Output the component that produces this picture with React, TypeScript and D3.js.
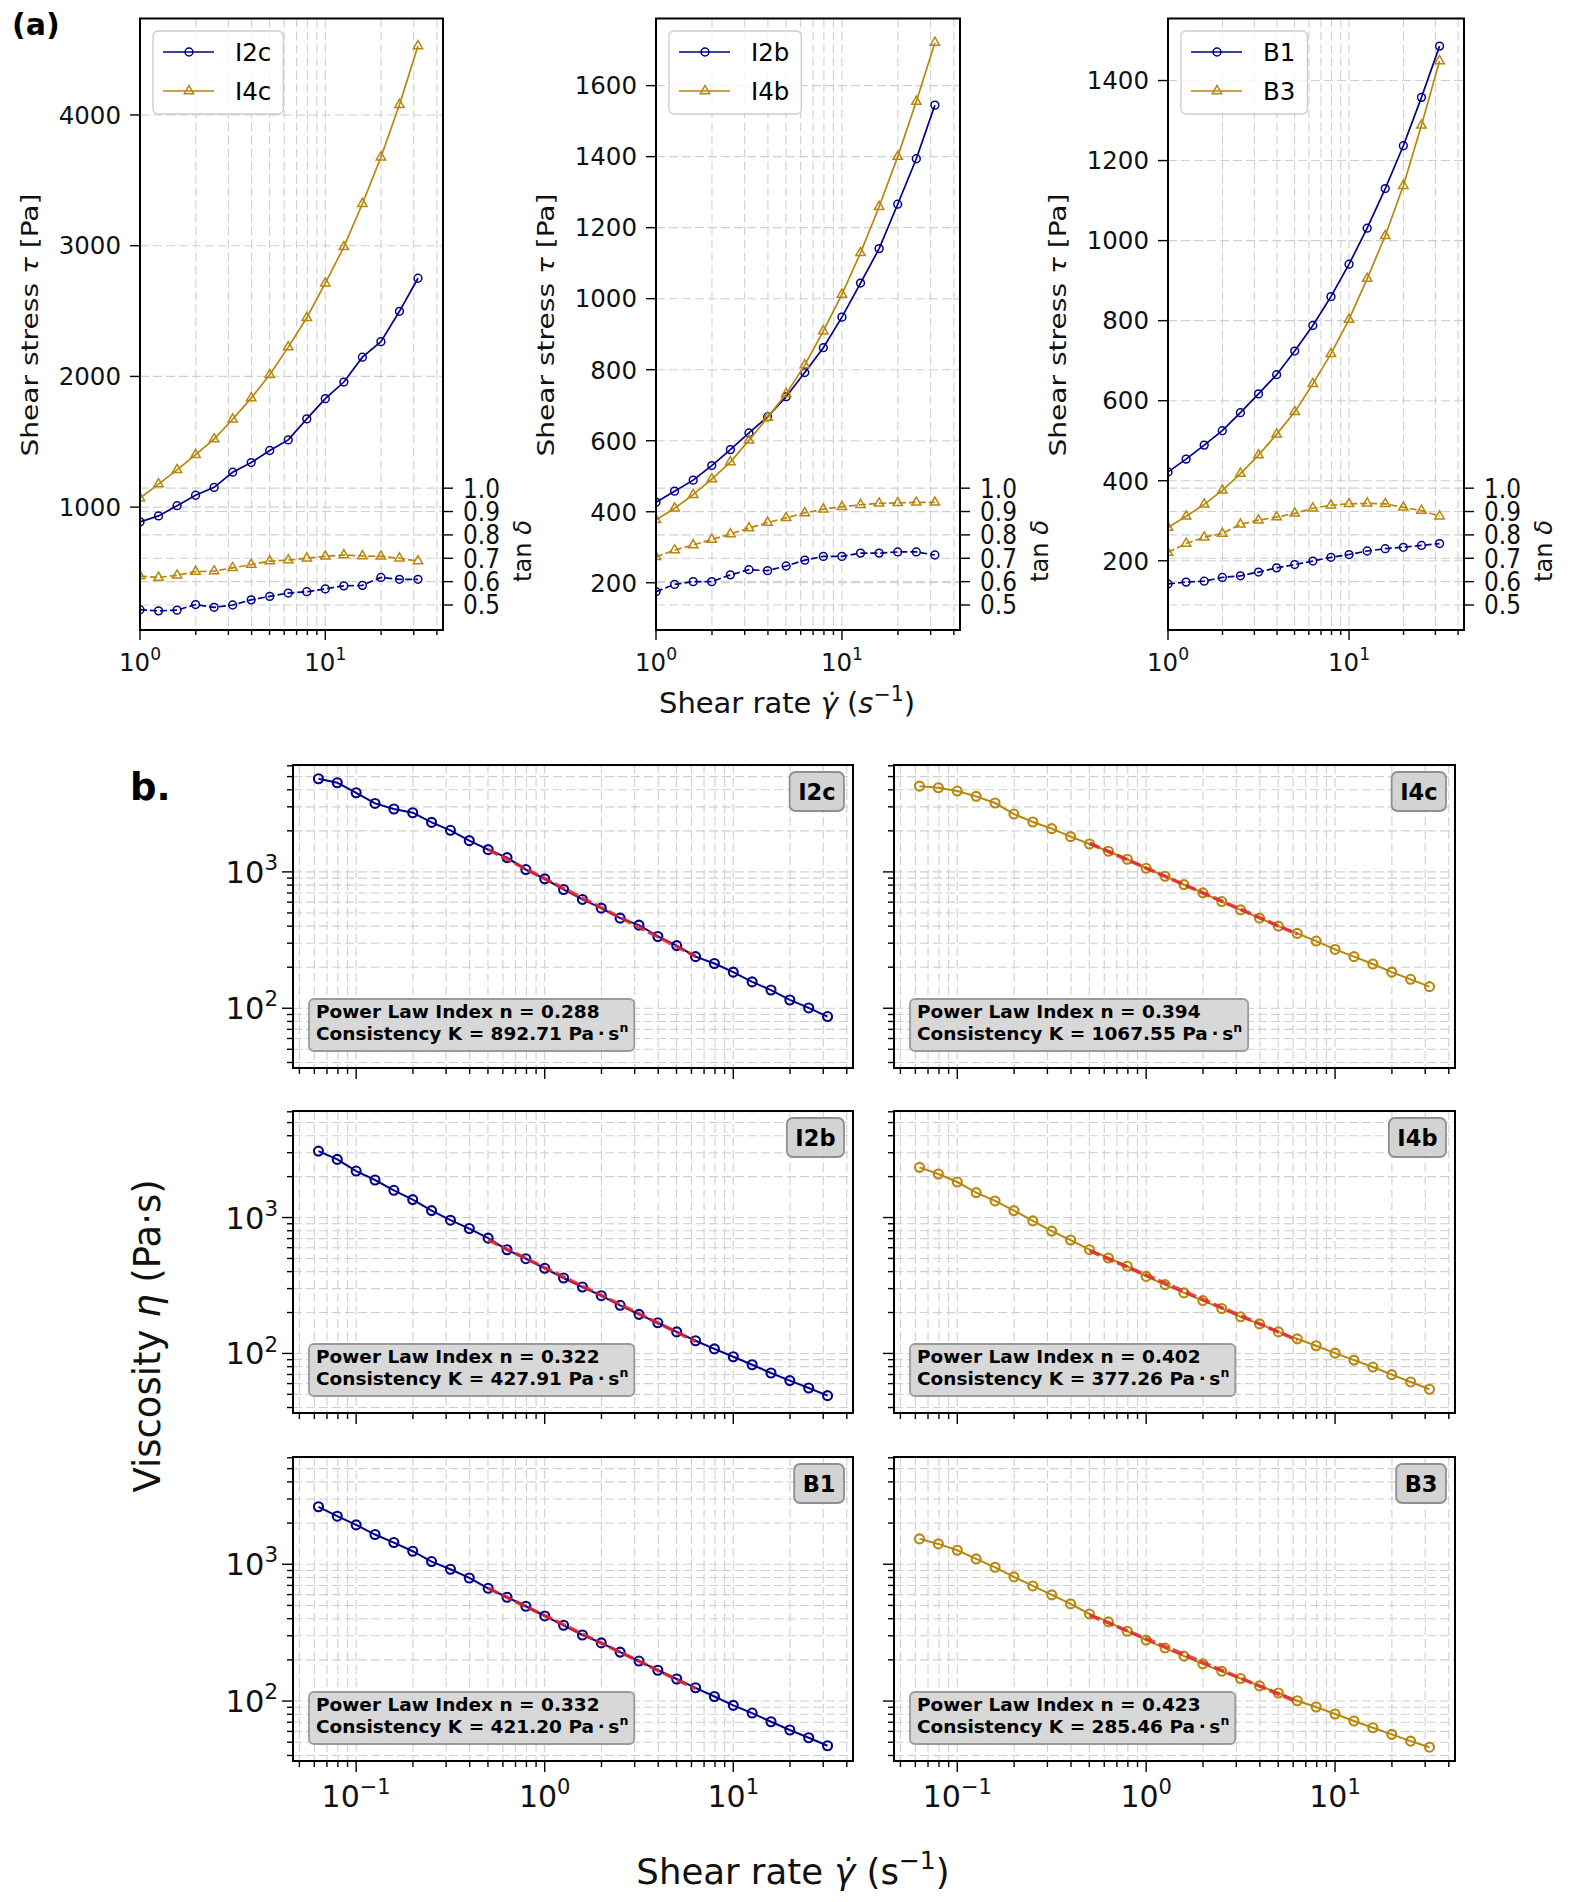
import React, { useEffect, useRef } from 'react';
import * as d3 from 'd3';

const W = 1576;
const H = 1902;
const FONT = "'DejaVu Sans', 'Liberation Sans', sans-serif";
const NAVY = '#00008b';
const GOLD = '#b8860b';
const FIT_RED = '#e3262a';
const GRID = '#d0d0d0';

// ---- part (a): shear stress and tan delta vs shear rate ----
const rateA = [1, 1.259, 1.585, 1.995, 2.512, 3.162, 3.981, 5.012, 6.31, 7.943, 10, 12.59, 15.85, 19.95, 25.12, 31.62];

const stressI2c = [887, 933, 1011, 1091, 1151, 1267, 1341, 1433, 1514, 1675, 1830, 1957, 2147, 2266, 2498, 2751];
const stressI4c = [1070, 1176, 1285, 1401, 1520, 1672, 1834, 2013, 2224, 2449, 2713, 2991, 3321, 3677, 4078, 4528];
const tanI2c = [0.48, 0.475, 0.478, 0.502, 0.49, 0.5, 0.522, 0.537, 0.551, 0.557, 0.569, 0.582, 0.584, 0.618, 0.61, 0.61];
const tanI4c = [0.624, 0.618, 0.627, 0.643, 0.645, 0.659, 0.673, 0.688, 0.692, 0.7, 0.708, 0.714, 0.71, 0.708, 0.7, 0.688];

const stressI2b = [427, 458, 489, 530, 575, 622, 667, 724, 792, 862, 948, 1044, 1141, 1266, 1394, 1545];
const stressI4b = [377, 410, 448, 492, 540, 601, 665, 732, 813, 909, 1012, 1129, 1259, 1400, 1555, 1721];
const tanI2b = [0.557, 0.588, 0.6, 0.6, 0.629, 0.651, 0.647, 0.667, 0.692, 0.708, 0.708, 0.722, 0.722, 0.727, 0.727, 0.714];
const tanI4b = [0.706, 0.735, 0.757, 0.78, 0.804, 0.829, 0.853, 0.873, 0.894, 0.91, 0.92, 0.929, 0.935, 0.937, 0.939, 0.939];

const stressB1 = [422, 454, 489, 525, 570, 617, 665, 724, 788, 860, 941, 1031, 1130, 1237, 1358, 1486];
const stressB3 = [283, 311, 341, 376, 418, 464, 516, 572, 642, 717, 803, 905, 1012, 1137, 1288, 1449];
const tanB1 = [0.59, 0.598, 0.602, 0.618, 0.625, 0.641, 0.659, 0.673, 0.688, 0.704, 0.716, 0.731, 0.741, 0.747, 0.755, 0.763];
const tanB3 = [0.725, 0.763, 0.79, 0.806, 0.845, 0.863, 0.876, 0.892, 0.914, 0.927, 0.933, 0.935, 0.933, 0.918, 0.904, 0.88];

const stressTicksC = [1000, 2000, 3000, 4000];
const stressTicksB = [200, 400, 600, 800, 1000, 1200, 1400, 1600];
const stressTicksBr = [200, 400, 600, 800, 1000, 1200, 1400];
const tanTicks = [0.5, 0.6, 0.7, 0.8, 0.9, 1.0];

// ---- part (b): viscosity vs shear rate with power-law fits ----
const rateB = [0.0631, 0.0794, 0.1, 0.1259, 0.1585, 0.1995, 0.2512, 0.3162, 0.3981, 0.5012, 0.631, 0.7943, 1, 1.259, 1.585, 1.995, 2.512, 3.162, 3.981, 5.012, 6.31, 7.943, 10, 12.59, 15.85, 19.95, 25.12, 31.62];

const etaI2c = [4819, 4507, 3805, 3177, 2891, 2716, 2307, 2018, 1695, 1456, 1273, 1040, 889, 743, 628, 542, 458, 407, 336, 288, 239, 213, 184, 156, 136, 115, 100.5, 86.9];
const etaI4c = [4256, 4139, 3916, 3580, 3200, 2656, 2321, 2075, 1814, 1603, 1416, 1238, 1064, 929, 807, 702, 606, 527, 458, 400, 354, 311, 270, 239, 211, 184, 163, 144];
const etaI2b = [3083, 2678, 2198, 1889, 1586, 1355, 1125, 956, 830, 705, 579, 498, 423, 359, 308, 266, 226, 194, 168, 144, 124, 108, 94.6, 82.6, 71.8, 63.1, 55.7, 48.9];
const etaI4b = [2340, 2090, 1826, 1526, 1325, 1125, 945, 795, 683, 580, 504, 438, 369, 321, 279, 245, 214, 186, 165, 144, 128, 114, 100.5, 89.3, 79.4, 69.8, 61.7, 54.5];
const etaB1 = [2630, 2245, 1940, 1649, 1441, 1245, 1046, 919, 794, 667, 574, 493, 419, 358, 304, 266, 228, 196, 168, 145, 125, 108, 93, 81.7, 70.6, 61.4, 53.9, 47.1];
const etaB3 = [1532, 1408, 1266, 1094, 950, 808, 694, 597, 513, 433, 379, 324, 279, 244, 213, 187, 165, 146, 129, 114.5, 100.5, 90.4, 80.4, 71.5, 63.8, 57.1, 50.9, 46.0];

const samplesB = ['I2c', 'I4c', 'I2b', 'I4b', 'B1', 'B3'];
const powerN = [0.288, 0.394, 0.322, 0.402, 0.332, 0.423];
const powerK = [892.71, 1067.55, 427.91, 377.26, 421.2, 285.46];
const fitRange = [0.5, 6.5];

// ---- layout ----
const topA = 18.5;
const bottomA = 630;
const colsA = [{ l: 140, r: 443 }, { l: 656, r: 960 }, { l: 1168, r: 1464 }];
const xDomainA: [number, number] = [1, 43.15];
const tanDomain: [number, number] = [0.393, 3.01];

const colsB = [{ l: 293, r: 853 }, { l: 894, r: 1455 }];
const rowsB = [{ t: 765, b: 1068 }, { t: 1111, b: 1413 }, { t: 1457, b: 1761 }];

type Sel = d3.Selection<any, unknown, null, undefined>;

function supText(g: Sel, x: number, y: number, base: string, exp: string, size: number, anchor: string) {
    const t = g.append('text').attr('x', x).attr('y', y).attr('font-size', size).attr('text-anchor', anchor);
    t.append('tspan').text(base);
    t.append('tspan').attr('font-size', size * 0.7).attr('dy', -size * 0.42).text(exp);
    return t;
}

function drawMarkers(g: Sel, values: number[], rates: number[], x: any, y: any, kind: string, color: string, r: number, sw: number) {
    if (kind === 'circle') {
        g.append('g').selectAll('circle').data(values).join('circle')
            .attr('cx', (_, k) => x(rates[k]))
            .attr('cy', d => y(d))
            .attr('r', r)
            .attr('fill', 'none')
            .attr('stroke', color)
            .attr('stroke-width', sw);
    } else {
        g.append('g').selectAll('path').data(values).join('path')
            .attr('d', d3.symbol(d3.symbolTriangle, r * r * 2.5)())
            .attr('transform', (d, k) => `translate(${x(rates[k])},${y(d)})`)
            .attr('fill', 'none')
            .attr('stroke', color)
            .attr('stroke-width', sw);
    }
}

function drawPartA(svg: Sel) {
    svg.append('text').attr('x', 12).attr('y', 35).attr('font-size', 30).attr('font-weight', 'bold').text('(a)');

    const panels = [
        { names: ['I2c', 'I4c'], stress: [stressI2c, stressI4c], tan: [tanI2c, tanI4c], ticks: stressTicksC, domain: [60, 4738] },
        { names: ['I2b', 'I4b'], stress: [stressI2b, stressI4b], tan: [tanI2b, tanI4b], ticks: stressTicksB, domain: [67, 1789] },
        { names: ['B1', 'B3'], stress: [stressB1, stressB3], tan: [tanB1, tanB3], ticks: stressTicksBr, domain: [27, 1555] },
    ];

    panels.forEach((p, i) => {
        const { l, r } = colsA[i];
        const x = d3.scaleLog().domain(xDomainA).range([l, r]);
        const y = d3.scaleLinear().domain(p.domain).range([bottomA, topA]);
        const y2 = d3.scaleLinear().domain(tanDomain).range([bottomA, topA]);
        const g = svg.append('g');

        const clipId = `clipA${i}`;
        g.append('clipPath').attr('id', clipId)
            .append('rect').attr('x', l).attr('y', topA).attr('width', r - l).attr('height', bottomA - topA);

        // grid
        const grid = g.append('g').attr('stroke', GRID).attr('stroke-width', 1.1).attr('stroke-dasharray', '9,4');
        x.ticks().filter(v => v > xDomainA[0] * 1.001).forEach(v => {
            grid.append('line').attr('x1', x(v)).attr('x2', x(v)).attr('y1', topA).attr('y2', bottomA);
        });
        p.ticks.forEach(v => grid.append('line').attr('x1', l).attr('x2', r).attr('y1', y(v)).attr('y2', y(v)));
        tanTicks.forEach(v => grid.append('line').attr('x1', l).attr('x2', r).attr('y1', y2(v)).attr('y2', y2(v)));

        // data
        const data = g.append('g').attr('clip-path', `url(#${clipId})`);
        const colors = [NAVY, GOLD];
        const kinds = ['circle', 'triangle'];
        [0, 1].forEach(k => {
            const lineS = d3.line<number>().x((_, j) => x(rateA[j])).y(d => y(d));
            const lineT = d3.line<number>().x((_, j) => x(rateA[j])).y(d => y2(d));
            data.append('path').attr('d', lineS(p.stress[k])).attr('fill', 'none')
                .attr('stroke', colors[k]).attr('stroke-width', 1.7);
            data.append('path').attr('d', lineT(p.tan[k])).attr('fill', 'none')
                .attr('stroke', colors[k]).attr('stroke-width', 1.7).attr('stroke-dasharray', '7,3');
            drawMarkers(data, p.stress[k], rateA, x, y, kinds[k], colors[k], 3.9, 1.5);
            drawMarkers(data, p.tan[k], rateA, x, y2, kinds[k], colors[k], 3.9, 1.5);
        });

        // ticks
        const ticks = g.append('g').attr('stroke', '#000').attr('stroke-width', 1.4);
        x.ticks().forEach(v => {
            const major = Math.abs(Math.log10(v) - Math.round(Math.log10(v))) < 1e-6;
            ticks.append('line').attr('x1', x(v)).attr('x2', x(v)).attr('y1', bottomA).attr('y2', bottomA + (major ? 10 : 5));
        });
        p.ticks.forEach(v => ticks.append('line').attr('x1', l - 10).attr('x2', l).attr('y1', y(v)).attr('y2', y(v)));
        tanTicks.forEach(v => ticks.append('line').attr('x1', r).attr('x2', r + 10).attr('y1', y2(v)).attr('y2', y2(v)));

        // spines
        g.append('rect').attr('x', l).attr('y', topA).attr('width', r - l).attr('height', bottomA - topA)
            .attr('fill', 'none').attr('stroke', '#000').attr('stroke-width', 2);

        // tick labels
        const labels = g.append('g').attr('fill', '#111');
        p.ticks.forEach(v => {
            labels.append('text').attr('x', l - 19).attr('y', y(v) + 8.8).attr('font-size', 24.5)
                .attr('text-anchor', 'end').text(String(v));
        });
        tanTicks.forEach(v => {
            labels.append('text').attr('x', r + 20).attr('y', y2(v) + 9.4).attr('font-size', 26)
                .attr('textLength', 37).attr('lengthAdjust', 'spacingAndGlyphs').text(v.toFixed(1));
        });
        [1, 10].forEach(v => supText(labels, x(v), bottomA + 40.5, '10', String(Math.round(Math.log10(v))), 24.5, 'middle'));

        // axis labels
        const yl = labels.append('text').attr('transform', `translate(${l - 102},325) rotate(-90)`)
            .attr('font-size', 22.5).attr('text-anchor', 'middle')
            .attr('textLength', 263).attr('lengthAdjust', 'spacingAndGlyphs');
        yl.append('tspan').text('Shear stress ');
        yl.append('tspan').attr('font-style', 'italic').text('τ');
        yl.append('tspan').text(' [Pa]');

        const tl = labels.append('text').attr('transform', `translate(${r + 88},551) rotate(-90)`)
            .attr('font-size', 24).attr('text-anchor', 'middle')
            .attr('textLength', 62).attr('lengthAdjust', 'spacingAndGlyphs');
        tl.append('tspan').text('tan ');
        tl.append('tspan').attr('font-style', 'italic').text('δ');

        // legend
        const lg = g.append('g');
        const bx = l + 13;
        const by = topA + 12.5;
        const rowsY = [by + 21, by + 60];
        const box = lg.append('rect');
        let maxW = 0;
        [0, 1].forEach(k => {
            const ly = rowsY[k];
            lg.append('line').attr('x1', l + 23).attr('x2', l + 74).attr('y1', ly).attr('y2', ly)
                .attr('stroke', colors[k]).attr('stroke-width', 1.7);
            drawMarkers(lg, [ly], [0], () => l + 49, (d: number) => d, kinds[k], colors[k], 3.9, 1.5);
            const t = lg.append('text').attr('x', l + 95).attr('y', ly + 8.8).attr('font-size', 24.5).text(p.names[k]);
            maxW = Math.max(maxW, (t.node() as SVGTextElement).getComputedTextLength());
        });
        box.attr('x', bx).attr('y', by).attr('width', l + 95 + maxW + 12 - bx).attr('height', 83)
            .attr('rx', 5).attr('fill', 'white').attr('fill-opacity', 0.8)
            .attr('stroke', '#cccccc').attr('stroke-width', 1.3);
    });

    // shared x label
    const xl = svg.append('text').attr('x', 787).attr('y', 713).attr('font-size', 29).attr('text-anchor', 'middle')
        .attr('fill', '#111');
    xl.append('tspan').text('Shear rate ');
    xl.append('tspan').attr('font-style', 'italic').text('γ\u0307');
    xl.append('tspan').text(' (');
    xl.append('tspan').attr('font-style', 'italic').text('s');
    xl.append('tspan').attr('font-size', 20.5).attr('dy', -12).text('−1');
    xl.append('tspan').attr('dy', 12).text(')');
}

function drawPartB(svg: Sel) {
    svg.append('text').attr('x', 130).attr('y', 800).attr('font-size', 37).attr('font-weight', 'bold').text('b.');

    const etas = [etaI2c, etaI4c, etaI2b, etaI4b, etaB1, etaB3];
    const [lo, hi] = d3.extent(etas.flat()) as [number, number];
    const padY = (Math.log10(hi) - Math.log10(lo)) * 0.05;
    const yDomain = [10 ** (Math.log10(lo) - padY), 10 ** (Math.log10(hi) + padY)];
    const [rLo, rHi] = d3.extent(rateB) as [number, number];
    const padX = (Math.log10(rHi) - Math.log10(rLo)) * 0.05;
    const xDomain = [10 ** (Math.log10(rLo) - padX), 10 ** (Math.log10(rHi) + padX)];
    const isMajor = (v: number) => Math.abs(Math.log10(v) - Math.round(Math.log10(v))) < 1e-6;

    samplesB.forEach((name, i) => {
        const row = Math.floor(i / 2);
        const col = i % 2;
        const { l, r } = colsB[col];
        const { t, b } = rowsB[row];
        const color = col === 0 ? NAVY : GOLD;
        const x = d3.scaleLog().domain(xDomain).range([l, r]);
        const y = d3.scaleLog().domain(yDomain).range([b, t]);
        const g = svg.append('g');

        // grid (major + minor)
        const grid = g.append('g').attr('stroke', GRID).attr('stroke-width', 1.1).attr('stroke-dasharray', '9,4');
        x.ticks().forEach(v => grid.append('line').attr('x1', x(v)).attr('x2', x(v)).attr('y1', t).attr('y2', b));
        y.ticks().forEach(v => grid.append('line').attr('x1', l).attr('x2', r).attr('y1', y(v)).attr('y2', y(v)));

        // data
        const line = d3.line<number>().x((_, j) => x(rateB[j])).y(d => y(d));
        g.append('path').attr('d', line(etas[i])).attr('fill', 'none').attr('stroke', color).attr('stroke-width', 2);
        drawMarkers(g, etas[i], rateB, x, y, 'circle', color, 4.5, 2.1);

        // power-law fit over the fitted range, drawn on top
        const fitRates = rateB.filter(v => v >= fitRange[0] && v <= fitRange[1]);
        const fitLine = d3.line<number>().x(v => x(v)).y(v => y(powerK[i] * v ** (powerN[i] - 1)));
        g.append('path').attr('d', fitLine([fitRates[0], fitRates[fitRates.length - 1]]))
            .attr('fill', 'none').attr('stroke', FIT_RED).attr('stroke-width', 3.6)
            .attr('stroke-dasharray', '11,4').attr('opacity', 0.85);

        // ticks
        const ticks = g.append('g').attr('stroke', '#000').attr('stroke-width', 1.4);
        x.ticks().forEach(v => ticks.append('line').attr('x1', x(v)).attr('x2', x(v))
            .attr('y1', b).attr('y2', b + (isMajor(v) ? 11 : 6)));
        y.ticks().forEach(v => ticks.append('line').attr('x1', l - (isMajor(v) ? 11 : 6)).attr('x2', l)
            .attr('y1', y(v)).attr('y2', y(v)));

        g.append('rect').attr('x', l).attr('y', t).attr('width', r - l).attr('height', b - t)
            .attr('fill', 'none').attr('stroke', '#000').attr('stroke-width', 2);

        const labels = g.append('g').attr('fill', '#111');
        if (col === 0) {
            y.ticks().filter(isMajor).forEach(v => {
                supText(labels, l - 15, y(v) + 11, '10', String(Math.round(Math.log10(v))), 30.5, 'end');
            });
        }
        if (row === 2) {
            x.ticks().filter(isMajor).forEach(v => {
                supText(labels, x(v), b + 46, '10', String(Math.round(Math.log10(v))).replace('-', '−'), 30, 'middle');
            });
        }

        // sample tag, top right
        const tag = g.append('g');
        const tagRect = tag.append('rect');
        const tagText = tag.append('text').attr('y', t + 34.5).attr('font-size', 22.5).attr('font-weight', 'bold')
            .attr('text-anchor', 'middle').text(name);
        const tw = (tagText.node() as SVGTextElement).getComputedTextLength();
        const tagW = tw + 17;
        tagText.attr('x', r - 9 - tagW / 2);
        tagRect.attr('x', r - 9 - tagW).attr('y', t + 7).attr('width', tagW).attr('height', 39).attr('rx', 6)
            .attr('fill', '#d3d3d3').attr('stroke', '#8f8f8f').attr('stroke-width', 1.8);

        // fit statistics box, bottom left
        const sb = g.append('g');
        const sRect = sb.append('rect');
        const bx = l + 16;
        const by = b - 69;
        const t1 = sb.append('text').attr('x', bx + 7).attr('y', by + 19).attr('font-size', 18.5).attr('font-weight', 'bold')
            .text(`Power Law Index n = ${powerN[i].toFixed(3)}`);
        const t2 = sb.append('text').attr('x', bx + 7).attr('y', by + 41).attr('font-size', 18.5).attr('font-weight', 'bold');
        t2.append('tspan').text(`Consistency K = ${powerK[i].toFixed(2)} Pa\u2009·\u2009s`);
        t2.append('tspan').attr('font-size', 12.5).attr('dy', -8).text('n');
        const w = Math.max(
            (t1.node() as SVGTextElement).getComputedTextLength(),
            (t2.node() as SVGTextElement).getComputedTextLength(),
        );
        sRect.attr('x', bx).attr('y', by).attr('width', w + 13).attr('height', 52).attr('rx', 5)
            .attr('fill', '#d6d6d6').attr('fill-opacity', 0.95).attr('stroke', '#9a9a9a').attr('stroke-width', 1.8);
    });

    const yl = svg.append('text').attr('transform', 'translate(160,1336) rotate(-90)')
        .attr('font-size', 37).attr('text-anchor', 'middle').attr('fill', '#111');
    yl.append('tspan').text('Viscosity ');
    yl.append('tspan').attr('font-style', 'italic').text('η');
    yl.append('tspan').text(' (Pa·s)');

    const xl = svg.append('text').attr('x', 793).attr('y', 1884).attr('font-size', 35.5)
        .attr('text-anchor', 'middle').attr('fill', '#111');
    xl.append('tspan').text('Shear rate ');
    xl.append('tspan').attr('font-style', 'italic').text('γ\u0307');
    xl.append('tspan').text(' (s');
    xl.append('tspan').attr('font-size', 25).attr('dy', -15).text('−1');
    xl.append('tspan').attr('dy', 15).text(')');
}

const App: React.FC = () => {
    const svgRef = useRef<SVGSVGElement | null>(null);

    useEffect(() => {
        const svg = d3.select(svgRef.current) as unknown as Sel;
        svg.selectAll('*').remove();
        svg.append('rect').attr('width', W).attr('height', H).attr('fill', 'white');
        drawPartA(svg);
        drawPartB(svg);
    }, []);

    return (
        <svg
            ref={svgRef}
            width={W}
            height={H}
            fontFamily={FONT}
            style={{ position: 'absolute', left: 0, top: 0, display: 'block' }}
        />
    );
};

export default App;
